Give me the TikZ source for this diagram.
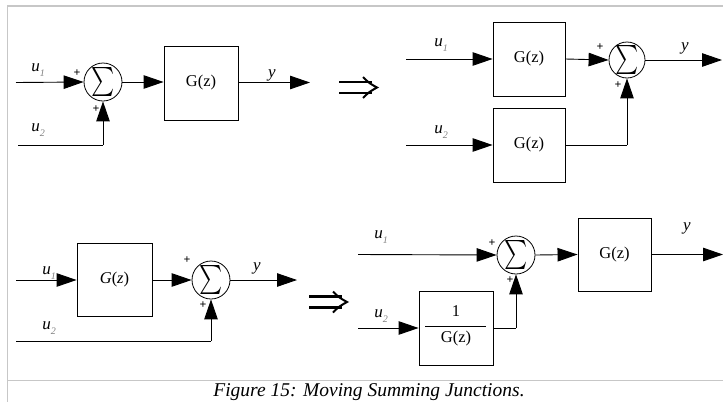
\documentclass[tikz,border=0pt]{standalone}
\usepackage{fontspec}
\setmainfont{Liberation Serif}
\usetikzlibrary{arrows.meta}
\begin{document}
\begin{tikzpicture}[x=1pt,y=-1pt,
  blk/.style={draw,line width=0.9pt,minimum width=74pt,minimum height=74pt,inner sep=0pt,font=\fontsize{16.5}{16.5}\selectfont},
  sumn/.style={circle,draw,line width=0.8pt,minimum size=38pt,inner sep=0pt},
  sig/.style={line width=0.9pt,-{Triangle[length=20pt,width=13.5pt]}},
  wire/.style={line width=0.9pt},
  lbl/.style={inner sep=0pt,font=\fontsize{17}{17}\selectfont\itshape},
  pls/.style={inner sep=0pt,font=\fontsize{12}{12}\selectfont\bfseries},
  frame/.style={draw=black!22,line width=1.3pt},
  dbl/.style={line width=2.2pt},
  chev/.style={line width=2pt,line join=miter}]
\newcommand{\sigmasym}{\scalebox{2.2}[2.9]{\boldmath$\sum$}}
\newcommand{\ulab}[1]{\textit{u}\raisebox{-4.5pt}{\fontsize{10}{10}\selectfont\color{black!50}\textit{#1}}}
\useasboundingbox (0,0) rectangle (723,402);
% frame
\draw[frame] (723,6) -- (7.5,6) -- (7.5,402);
\draw[frame] (7.5,380.5) -- (723,380.5);

% ---------- top-left ----------
\coordinate (a1) at (16,82.5);
\coordinate (a2) at (18,145);
\node[sumn] (s1) at (103,82) {};
\node[inner sep=0pt] (S1) at (103,82) {\sigmasym};
\node[blk] (g1) at (201,83) {G(z)};
\coordinate (o1) at (310,82.5);
\coordinate (k1) at (103,145);
\draw[sig] (a1) -- (s1.west);
\draw[sig] (s1.east) -- (g1.west |- s1.east);
\draw[sig] (g1.east |- o1) -- (o1);
\draw[wire] (a2) -- (k1);
\draw[sig] (k1) -- (s1.south);
\node[lbl] (l1) at (38,70) {\ulab{1}};
\node[lbl] (l2) at (38,130) {\ulab{2}};
\node[lbl] (l3) at (272,75) {y};
\node[pls] (p1) at (77,73) {+};
\node[pls] (p2) at (96,109) {+};

% implies arrow top
\draw[dbl] (339,82) -- (372,82);
\draw[dbl] (339,93) -- (372,93);
\draw[chev] (363,77) .. controls (369,83) .. (377,87.5) .. controls (369,92) .. (363,98);

% ---------- top-right ----------
\coordinate (b1) at (406,59);
\coordinate (b2) at (406,145);
\node[blk,minimum width=72pt] (g2) at (529,59) {G(z)};
\node[blk,minimum width=72pt] (g3) at (529,145) {G(z)};
\node[sumn,minimum size=36pt] (s2) at (627,60) {};
\node[inner sep=0pt] (S2) at (627,60) {\sigmasym};
\coordinate (k2) at (627,145);
\coordinate (o2) at (722,60);
\draw[sig] (b1) -- (g2.west);
\draw[sig] (b2) -- (g3.west);
\draw[sig] (g2.east) -- (s2.west);
\draw[wire] (g3.east) -- (k2);
\draw[sig] (k2) -- (s2.south);
\draw[sig] (s2.east) -- (o2);
\node[lbl] (l4) at (441,45) {\ulab{1}};
\node[lbl] (l5) at (441,132) {\ulab{2}};
\node[lbl] (l6) at (685,48) {y};
\node[pls] (p3) at (600,47) {+};
\node[pls] (p4) at (618,85) {+};

% ---------- bottom-left ----------
\coordinate (c1) at (16,280);
\coordinate (c2) at (16,341);
\node[blk,minimum width=75pt,minimum height=73pt] (g4) at (114.5,279.5) {\textit{G}(\textit{z})};
\node[sumn] (s3) at (211,280) {};
\node[inner sep=0pt] (S3) at (211,280) {\sigmasym};
\coordinate (k3) at (211,341);
\coordinate (o3) at (297,280);
\draw[sig] (c1) -- (g4.west |- c1);
\draw[sig] (g4.east |- s3.west) -- (s3.west);
\draw[sig] (s3.east) -- (o3);
\draw[wire] (c2) -- (k3);
\draw[sig] (k3) -- (s3.south);
\node[lbl] (l7) at (49,273) {\ulab{1}};
\node[lbl] (l8) at (49,328) {\ulab{2}};
\node[lbl] (l9) at (257,268) {y};
\node[pls] (p5) at (187,260) {+};
\node[pls] (p6) at (203,305) {+};

% implies arrow bottom
\draw[dbl] (309,296.5) -- (342,296.5);
\draw[dbl] (309,307.5) -- (342,307.5);
\draw[chev] (333,291.5) .. controls (339,297.5) .. (347,302) .. controls (339,306.5) .. (333,312.5);

% ---------- bottom-right ----------
\coordinate (d1) at (358,254.5);
\coordinate (d2) at (358,328);
\node[sumn] (s4) at (516,255) {};
\node[inner sep=0pt] (S4) at (516,255) {\sigmasym};
\node[blk,minimum width=73pt,minimum height=73pt] (g5) at (614.5,254.5) {G(z)};
\node[blk] (g6) at (456,328) {};
\node[inner sep=0pt,font=\fontsize{16.5}{16.5}\selectfont] (f1) at (456,311) {1};
\node[inner sep=0pt,font=\fontsize{16.5}{16.5}\selectfont] (f2) at (456,339) {G(z)};
\draw[line width=0.9pt] (425,326.5) -- (486,326.5);
\coordinate (k4) at (516,328);
\coordinate (o4) at (723,254.5);
\draw[sig] (d1) -- (s4.west);
\draw[sig] (s4.east) -- (g5.west);
\draw[sig] (g5.east) -- (o4);
\draw[sig] (d2) -- (g6.west);
\draw[wire] (g6.east) -- (k4);
\draw[sig] (k4) -- (s4.south);
\node[lbl] (l10) at (381,237) {\ulab{1}};
\node[lbl] (l11) at (381,316) {\ulab{2}};
\node[lbl] (l12) at (687,228) {y};
\node[pls] (p7) at (492,243) {+};
\node[pls] (p8) at (510,280) {+};

% caption
\node[anchor=base,inner sep=0pt,font=\fontsize{19.5}{19.5}\selectfont\itshape] (cap) at (369,396.5) {Figure 15: Moving Summing Junctions.};
\end{tikzpicture}
\end{document}
